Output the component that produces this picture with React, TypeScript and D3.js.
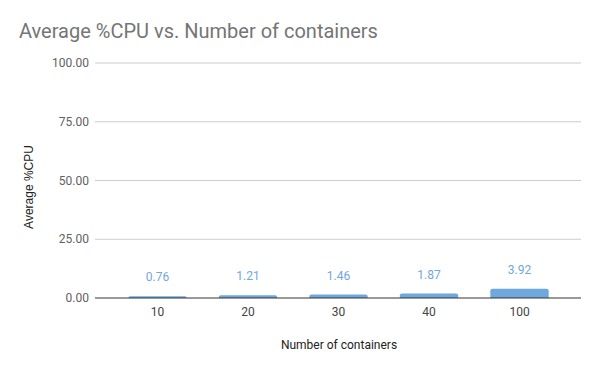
import * as d3 from 'd3';

const categories = ['10', '20', '30', '40', '100'];
const values = [0.76, 1.21, 1.46, 1.87, 3.92];
const yTicks = [0, 25, 50, 75, 100];

const width = 600;
const height = 371;
const barColor = '#6fa8dc';

const roundedTop = (x: number, y: number, w: number, h: number, r: number) => {
  const rr = Math.min(r, h, w / 2);
  return `M${x},${y + h}V${y + rr}Q${x},${y} ${x + rr},${y}H${x + w - rr}Q${x + w},${y} ${x + w},${y + rr}V${y + h}Z`;
};

const App = () => {
  const y = d3.scaleLinear().domain([0, 100]).range([298, 63]);
  const x = d3
    .scaleBand<string>()
    .domain(categories)
    .range([112, 565])
    .paddingInner(0.355)
    .paddingOuter(0.18);

  const font = 'Roboto, sans-serif';

  return (
    <svg
      width={width}
      height={height}
      style={{ position: 'absolute', left: 0, top: 0, background: '#fff' }}
    >
      <rect width={width} height={height} fill="#fff" />
      <text x={19} y={38} fontFamily={font} fontSize={20} fill="#757575">
        Average %CPU vs. Number of containers
      </text>

      {/* gridlines and y ticks */}
      {yTicks.map((t) => (
        <g key={t}>
          {t !== 0 && (
            <line x1={95} x2={581} y1={y(t)} y2={y(t)} stroke="#cccccc" strokeWidth={1} />
          )}
          <text
            x={89}
            y={y(t) + 4}
            textAnchor="end"
            fontFamily={font}
            fontSize={12}
            fill="#616161"
          >
            {t.toFixed(2)}
          </text>
        </g>
      ))}

      {/* bars */}
      {categories.map((c, i) => {
        const bx = x(c) ?? 0;
        const bw = x.bandwidth();
        const top = y(values[i]);
        return (
          <g key={c}>
            <path d={roundedTop(bx, top, bw, y(0) - top, 2)} fill={barColor} />
            <text
              x={bx + bw / 2}
              y={top - 15}
              textAnchor="middle"
              fontFamily={font}
              fontSize={12}
              fill={barColor}
            >
              {values[i].toFixed(2)}
            </text>
            <text
              x={bx + bw / 2}
              y={316}
              textAnchor="middle"
              fontFamily={font}
              fontSize={12}
              fill="#444444"
            >
              {c}
            </text>
          </g>
        );
      })}

      <line x1={95} x2={581} y1={y(0)} y2={y(0)} stroke="#333333" strokeWidth={1} />

      <text
        x={339}
        y={349}
        textAnchor="middle"
        fontFamily={font}
        fontSize={12}
        fill="#222222"
      >
        Number of containers
      </text>
      <text
        transform="translate(33,187) rotate(-90)"
        textAnchor="middle"
        fontFamily="'Liberation Sans', Arial, sans-serif"
        fontSize={12}
        fill="#222222"
      >
        Average %CPU
      </text>
    </svg>
  );
};

export default App;
